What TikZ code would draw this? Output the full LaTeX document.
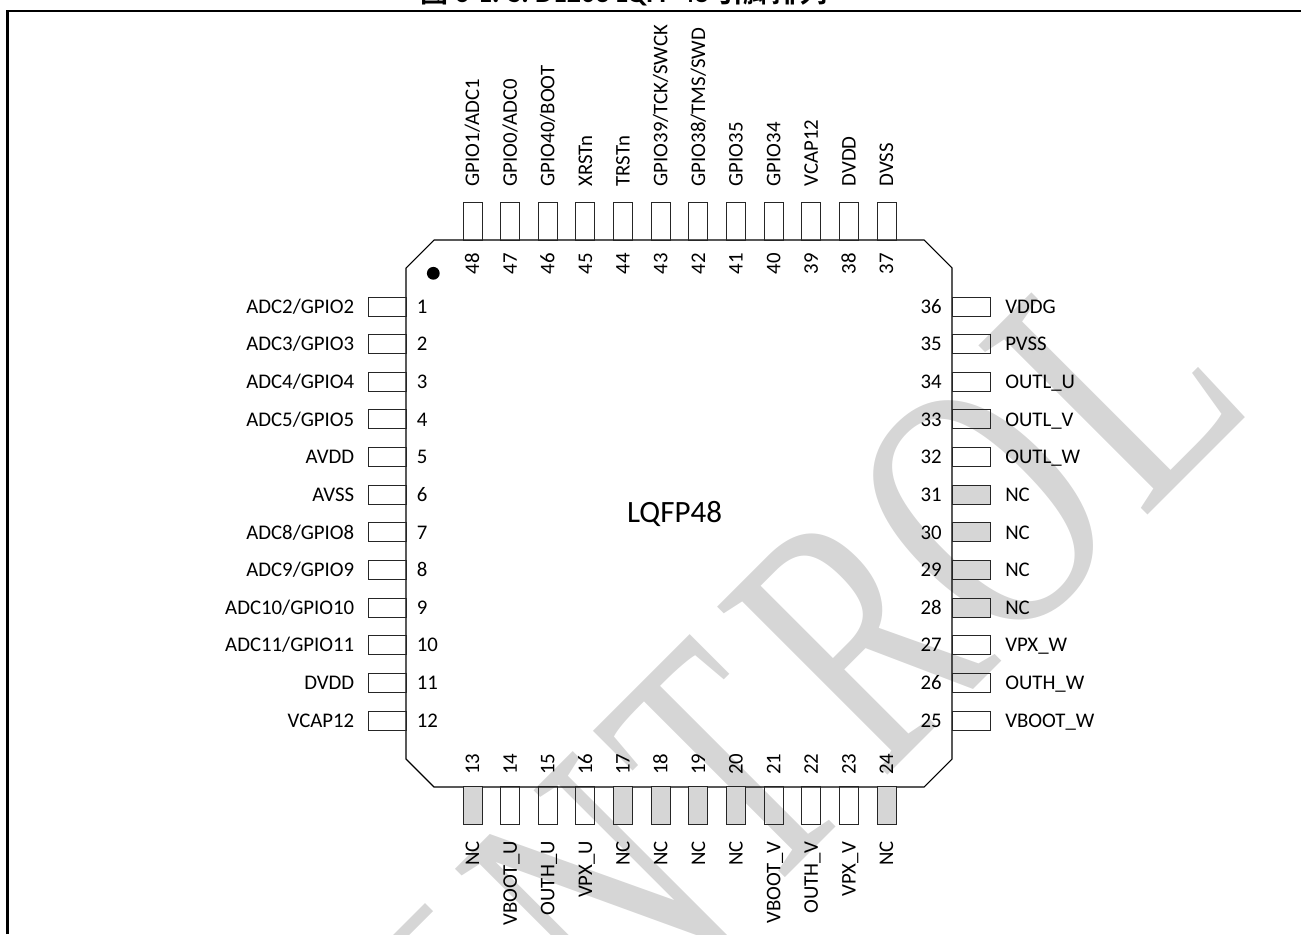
\documentclass[tikz,border=0pt]{standalone}
\usepackage{fontspec}
\setmainfont{Carlito}
\newfontfamily\wmfont{Liberation Serif}
\newfontfamily\cjkfont{Noto Sans CJK SC}[BoldFont={Noto Sans CJK SC Bold}]
\definecolor{wm}{HTML}{D6D6D6}
\tikzset{
  pinline/.style={draw=black!85,line width=.75pt,inner sep=0pt},
  hpin/.style={pinline,minimum width=28.5pt,minimum height=14.25pt},
  vpin/.style={pinline,minimum width=14.25pt,minimum height=28.5pt},
  plain/.style={},
  nc/.style={fill=wm},
  lbl/.style={font=\fontsize{15.6}{18}\selectfont,inner sep=0pt,text height=10pt,text depth=0pt,text=black},
  chip/.style={draw=black,line width=.8pt,line join=miter},
  frameline/.style={draw=black,line width=1.6pt},
  mark1/.style={circle,fill=black,minimum size=9.6pt,inner sep=0pt},
  wmletter/.style={rotate=45,anchor=base west,inner sep=0pt,text=wm,font=\wmfont\fontsize{274}{274}\selectfont},
}
\begin{document}
\begin{tikzpicture}[x=.75pt,y=-.75pt]
\useasboundingbox (0,0) rectangle (1301,934);
\clip (0,0) rectangle (1301,934);
% watermark
\fill[wm] (390,938) -- (425,903) -- (433,911) -- (406,938) -- cycle;
\foreach \c/\o/\k in {N/-300/.68,T/-102/.65,R/71/.70,O/241/.705,L/439/.735}{
  \node[wmletter,xscale=\k] (wm\c) at ({(1663+1.4142*\o)/2},{(1663-1.4142*\o)/2}) {\c};
}
% title
\node[anchor=base,inner sep=0pt,font=\fontsize{21}{24}\selectfont\bfseries] (title) at (624,2.5) {{\cjkfont 图} 6-1. S. D1203 LQFP 48 {\cjkfont 引脚排列}};
% frame
\coordinate (fa) at (7.5,934); \coordinate (fb) at (7.5,11); \coordinate (fc) at (1301,11);
\draw[frameline] (fa) -- (fb) -- (fc);
% chip
\draw[chip] (406,268) -- (434,240) -- (924,240) -- (952,268) -- (952,759) -- (924,787) -- (434,787) -- (406,759) -- cycle;
\node[mark1] (dot) at (433.3,273.3) {};
\node[font=\fontsize{23.25}{28}\selectfont,inner sep=0pt] (pkg) at (674.5,514) {LQFP48};
% left
\foreach \n/\t/\s in {1/{ADC2/GPIO2}/plain,2/{ADC3/GPIO3}/plain,3/{ADC4/GPIO4}/plain,4/{ADC5/GPIO5}/plain,5/AVDD/plain,6/AVSS/plain,7/{ADC8/GPIO8}/plain,8/{ADC9/GPIO9}/plain,9/{ADC10/GPIO10}/plain,10/{ADC11/GPIO11}/plain,11/DVDD/plain,12/VCAP12/plain}{
  \pgfmathsetmacro\py{306.5+37.64*(\n-1)}
  \node[hpin,\s] (p\n) at (387,\py) {};
  \node[lbl,anchor=east] (t\n) at (354.5,\py) {\t};
  \node[lbl,anchor=west] (n\n) at (416.5,\py) {\n};
}
% right
\foreach \n/\t/\s in {25/VBOOT\_W/plain,26/OUTH\_W/plain,27/VPX\_W/plain,28/NC/nc,29/NC/nc,30/NC/nc,31/NC/nc,32/OUTL\_W/plain,33/OUTL\_V/plain,34/OUTL\_U/plain,35/PVSS/plain,36/VDDG/plain}{
  \pgfmathsetmacro\py{306.5+37.64*(36-\n)}
  \node[hpin,\s] (p\n) at (971,\py) {};
  \node[lbl,anchor=west] (t\n) at (1005,\py) {\t};
  \node[lbl,anchor=east] (n\n) at (942,\py) {\n};
}
% bottom
\foreach \n/\t/\s in {13/NC/nc,14/VBOOT\_U/plain,15/OUTH\_U/plain,16/VPX\_U/plain,17/NC/nc,18/NC/nc,19/NC/nc,20/NC/nc,21/VBOOT\_V/plain,22/OUTH\_V/plain,23/VPX\_V/plain,24/NC/nc}{
  \pgfmathsetmacro\px{472.5+37.64*(\n-13)}
  \node[vpin,\s] (p\n) at (\px,805.5) {};
  \node[lbl,rotate=90,anchor=east] (t\n) at (\px,841) {\t};
  \node[lbl,rotate=90,anchor=west] (n\n) at (\px,775) {\n};
}
% top
\foreach \n/\t/\s in {37/DVSS/plain,38/DVDD/plain,39/VCAP12/plain,40/GPIO34/plain,41/GPIO35/plain,42/{GPIO38/TMS/SWD}/plain,43/{GPIO39/TCK/SWCK}/plain,44/TRSTn/plain,45/XRSTn/plain,46/{GPIO40/BOOT}/plain,47/{GPIO0/ADC0}/plain,48/{GPIO1/ADC1}/plain}{
  \pgfmathsetmacro\px{472.5+37.64*(48-\n)}
  \node[vpin,\s] (p\n) at (\px,221.5) {};
  \node[lbl,rotate=90,anchor=west] (t\n) at (\px,186.5) {\t};
  \node[lbl,rotate=90,anchor=east] (n\n) at (\px,253) {\n};
}
\end{tikzpicture}
\end{document}
